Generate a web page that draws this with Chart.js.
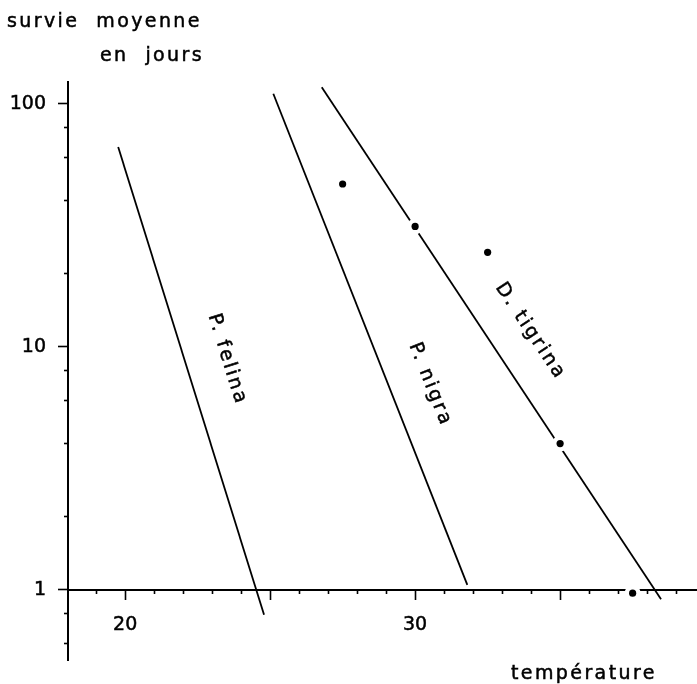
<!DOCTYPE html>
<html><head><meta charset="utf-8">
<script src="https://cdn.jsdelivr.net/npm/chart.js@4/dist/chart.umd.min.js"></script>
<style>html,body{margin:0;padding:0;background:#fff;}canvas{display:block;}</style>
</head><body>
<canvas id="c" width="697" height="684"></canvas>
<script>
// ---- data ----
const felinaX = [19.76, 24.79];
const felinaY = [66.5, 0.79];
const nigraX = [25.11, 31.80];
const nigraY = [110, 1.05];
const tigrinaX = [26.78, 38.48];
const tigrinaY = [117, 0.915];
const pointX = [27.5, 30, 32.5, 35, 37.5];
const pointY = [46.8, 31.3, 24.5, 4.0, 0.97];

const speciesNames = ['P. felina', 'P. nigra', 'D. tigrina'];
const speciesLabelX = [23.52, 30.52, 33.97];
const speciesLabelY = [8.87, 7.0, 11.6];

const xMajorTicks = [20, 25, 30, 35];
const xMinorTicks = [19, 21, 22, 23, 24, 26, 27, 28, 29, 31, 32, 33, 34, 36, 37, 38, 39];
const xTickLabels = [20, 30];
const yMajorTicks = [1, 10, 100];
const yMinorTicks = [0.6, 0.8, 2, 4, 6, 8, 20, 40, 60, 80];

const xTitle = 'température';
const yTitle = ['survie  moyenne', 'en  jours'];

const X_MIN = 18.03, X_MAX = 39.72, Y_MIN = 0.515, Y_MAX = 123;

const FONT = '"DejaVu Sans", sans-serif';
const pairs = (xs, ys) => xs.map((x, i) => ({x: x, y: ys[i]}));

const textPlugin = {
  id: 'texts',
  afterDatasetsDraw(chart) {
    const ctx = chart.ctx;
    const xs = chart.scales.x, ys = chart.scales.y;
    const put = (t, x, y) => { ctx.fillText(t, x, y); ctx.strokeText(t, x, y); };
    ctx.save();
    ctx.fillStyle = '#000';
    ctx.strokeStyle = '#000';
    ctx.lineWidth = 0.5;
    ctx.font = '19px ' + FONT;
    ctx.letterSpacing = '2.4px';
    ctx.textAlign = 'left';
    ctx.textBaseline = 'alphabetic';
    put(yTitle[0], 7, 27);
    put(yTitle[1], 100, 61);
    put(xTitle, 511, 679);
    const lines = [[felinaX, felinaY], [nigraX, nigraY], [tigrinaX, tigrinaY]];
    speciesNames.forEach((name, i) => {
      const lx = lines[i][0], ly = lines[i][1];
      const x0 = xs.getPixelForValue(lx[0]), y0 = ys.getPixelForValue(ly[0]);
      const x1 = xs.getPixelForValue(lx[1]), y1 = ys.getPixelForValue(ly[1]);
      const ang = Math.atan2(y1 - y0, x1 - x0);
      ctx.save();
      ctx.translate(xs.getPixelForValue(speciesLabelX[i]), ys.getPixelForValue(speciesLabelY[i]));
      ctx.rotate(ang);
      ctx.textAlign = 'center';
      ctx.textBaseline = 'middle';
      put(name, 0, 0);
      ctx.restore();
    });
    ctx.restore();
  }
};

const lineStyle = {borderColor: '#000', borderWidth: 1.8, pointRadius: 0, tension: 0, fill: false, xAxisID: 'x', yAxisID: 'y'};

new Chart(document.getElementById('c'), {
  type: 'line',
  data: {
    datasets: [
      {label: 'points', data: pairs(pointX, pointY), showLine: false, pointRadius: 3.6,
       pointBackgroundColor: '#000', pointBorderWidth: 0, order: 0, xAxisID: 'x', yAxisID: 'y'},
      {label: 'halo', data: pairs(pointX, pointY), showLine: false, pointRadius: 8,
       pointBackgroundColor: '#fff', pointBorderWidth: 0, order: 1, xAxisID: 'x', yAxisID: 'y'},
      Object.assign({label: 'P. felina', data: pairs(felinaX, felinaY), order: 2}, lineStyle),
      Object.assign({label: 'P. nigra', data: pairs(nigraX, nigraY), order: 2}, lineStyle),
      Object.assign({label: 'D. tigrina', data: pairs(tigrinaX, tigrinaY), order: 2}, lineStyle)
    ]
  },
  options: {
    responsive: false,
    animation: false,
    devicePixelRatio: 1,
    layout: {autoPadding: false, padding: {top: 82, bottom: 24, left: 0, right: 0}},
    plugins: {legend: {display: false}, tooltip: {enabled: false}, title: {display: false}},
    scales: {
      x: {
        type: 'linear', axis: 'x', min: X_MIN, max: X_MAX, position: {y: 1},
        afterBuildTicks: s => { s.ticks = xMajorTicks.map(v => ({value: v})); },
        ticks: {callback: v => xTickLabels.includes(v) ? String(v) : '', font: {family: FONT, size: 19},
                color: '#000', textStrokeColor: '#000', textStrokeWidth: 0.5,
                padding: 15, maxRotation: 0, autoSkip: false},
        grid: {drawOnChartArea: false, drawTicks: true, tickLength: 9, tickColor: '#000', tickWidth: 1.6},
        border: {display: true, color: '#000', width: 2}
      },
      xm: {
        type: 'linear', axis: 'x', min: X_MIN, max: X_MAX, position: {y: 1},
        afterBuildTicks: s => { s.ticks = xMinorTicks.map(v => ({value: v})); },
        ticks: {display: false},
        grid: {drawOnChartArea: false, drawTicks: true, tickLength: 4, tickColor: '#000', tickWidth: 1.6},
        border: {display: false}
      },
      y: {
        type: 'logarithmic', axis: 'y', min: Y_MIN, max: Y_MAX, position: 'left',
        afterBuildTicks: s => { s.ticks = yMajorTicks.map(v => ({value: v})); },
        afterFit: s => { s.width = 68; },
        ticks: {callback: v => String(v), font: {family: FONT, size: 19}, color: '#000',
                textStrokeColor: '#000', textStrokeWidth: 0.5, padding: 12, autoSkip: false},
        grid: {drawOnChartArea: false, drawTicks: true, tickLength: 10, tickColor: '#000', tickWidth: 1.6},
        border: {display: true, color: '#000', width: 2}
      },
      ym: {
        type: 'logarithmic', axis: 'y', min: Y_MIN, max: Y_MAX, position: {x: X_MIN},
        afterBuildTicks: s => { s.ticks = yMinorTicks.map(v => ({value: v})); },
        ticks: {display: false},
        grid: {drawOnChartArea: false, drawTicks: true, tickLength: 4, tickColor: '#000', tickWidth: 1.6},
        border: {display: false}
      }
    }
  },
  plugins: [textPlugin]
});
</script>
</body></html>
